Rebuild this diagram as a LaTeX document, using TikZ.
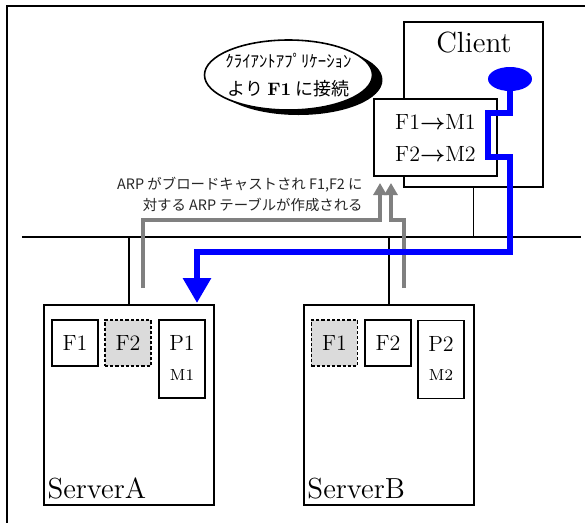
\documentclass[tikz,border=0pt]{standalone}
\usepackage{fontspec}
\newfontfamily\jp{Noto Sans CJK JP}
\usetikzlibrary{arrows.meta, shapes.geometric, shadows}

\begin{document}
\begin{tikzpicture}[x=0.5pt, y=-0.5pt, >=latex,
	srv/.style={draw, line width=0.9pt, minimum width=85pt, minimum height=100pt, inner sep=0pt},
	fbox/.style={draw, fill=white, line width=0.6pt, minimum width=23pt, minimum height=23pt, inner sep=0pt, font=\fontsize{11}{13}\selectfont},
	vip/.style={fbox, fill=black!14, line width=0.8pt, dash pattern=on 1.6pt off 1pt},
	pbox/.style={fbox, minimum height=39pt},
	arp/.style={line width=2pt, black!50, -{Triangle[width=6.5pt, length=6pt]}},
	path blue/.style={line width=3pt, blue, -{Triangle[width=13.5pt, length=12.5pt]}}]
	%%%	Help Lines
%	\draw [thin, help lines, step=50] (0,0) grid (586,527);
	\useasboundingbox (0,0) rectangle (586,527);
	%%%	Cornice e LAN
	\draw [line width=1pt] (585,6) -- (7,6) -- (7,523);
	\coordinate (lanL) at (22,237);
	\coordinate (lanR) at (581,237);
	\draw [line width=0.9pt] (lanL) -- (lanR);
	% Client
	\node [srv, minimum width=69.5pt, minimum height=82.5pt] (cli) at (473.5,104.5) {};
	\node [font=\fontsize{14.6}{17}\selectfont] (clit) at (474,43) {Client};
	\node [ellipse, fill=blue, minimum width=22pt, minimum height=12pt, inner sep=0pt] (app) at (510,79) {};
	\draw [line width=0.9pt] (cli.south) -- (cli.south |- lanL);
	% Fumetto
	\node [ellipse, draw, fill=white, line width=0.8pt, minimum width=84pt, minimum height=35pt, inner sep=0pt,
		general shadow={fill=black, shadow xshift=5pt, shadow yshift=-2.5pt}] (bubble) at (288.5,75) {};
	\node [align=center, font=\jp\fontsize{9}{14}\selectfont] (bubt) at (bubble.center)
		{{\fontsize{8.4}{10}\selectfont ｸﾗｲｱﾝﾄｱﾌﾟﾘｹｰｼｮﾝ}\\より \textbf{\fontspec{Latin Modern Roman}F1} に接続};
	% Tabella ARP
	\node [fbox, minimum width=61.5pt, minimum height=38.5pt, align=center, font=\fontsize{11}{16}\selectfont] (tab) at (435.5,137.5)
		{F1{\boldmath$\rightarrow$}M1\\F2{\boldmath$\rightarrow$}M2};
	%%%	ServerA
	\node [srv] (sA) at (129,405) {};
	\draw [line width=0.9pt] (sA.north) -- (sA.north |- lanL);
	\node [fbox] (a1) at (75,343) {F1};
	\node [vip] (a2) at (128,343) {F2};
	\node [pbox] (p1) at (182,359) {};
	\node [font=\fontsize{11}{13}\selectfont] (p1t) at ([yshift=8pt]p1.center) {P1};
	\node [font=\fontsize{8}{10}\selectfont] (m1t) at ([yshift=-8pt]p1.center) {M1};
	\node [anchor=base west, font=\fontsize{14.5}{17}\selectfont, inner sep=0pt] (sAt) at ([xshift=2pt, yshift=3.5pt]sA.south west) {ServerA};
	%%%	ServerB
	\node [srv] (sB) at (389,405) {};
	\draw [line width=0.9pt] (sB.north) -- (sB.north |- lanL);
	\node [vip] (b1) at (334.5,343) {F1};
	\node [fbox] (b2) at (388,343) {F2};
	\node [pbox] (p2) at (441,359.5) {};
	\node [font=\fontsize{11}{13}\selectfont] (p2t) at ([yshift=8pt]p2.center) {P2};
	\node [font=\fontsize{8}{10}\selectfont] (m2t) at ([yshift=-8pt]p2.center) {M2};
	\node [anchor=base west, font=\fontsize{14.5}{17}\selectfont, inner sep=0pt] (sBt) at ([xshift=2pt, yshift=3.5pt]sB.south west) {ServerB};
	%%%	ARP broadcast
	\coordinate (gA) at (143,288);
	\coordinate (gB) at (404,288);
	\coordinate (tA) at (380,183);
	\coordinate (tB) at (391,183);
	\draw [arp] (gA) -- ++(0,-68) -| (tA);
	\draw [arp] (gB) -- ++(0,-68) -| (tB);
	\node [anchor=east, align=right, text=black!85, font=\jp\fontsize{7.2}{10.5}\selectfont, inner sep=0pt] (arpt) at (363,194.5)
		{ARP がブロードキャストされ F1,F2 に\\対する ARP テーブルが作成される};
	%%%	Connessione a F1
	\coordinate (hit) at (197,303);
	\draw [path blue] (app.south) |- (488,113) |- (510,157) -- (510,252) -| (hit);
\end{tikzpicture}
\end{document}
